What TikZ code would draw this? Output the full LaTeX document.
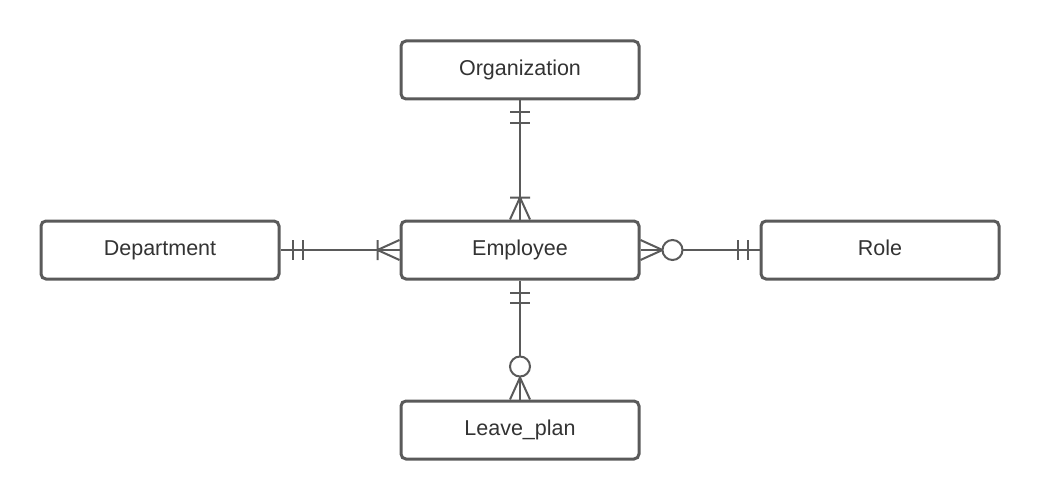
\documentclass[tikz,border=0pt]{standalone}
\usepackage{fontspec}
\setmainfont{Liberation Sans}
\definecolor{linegray}{HTML}{5A5A5A}
\definecolor{textgray}{HTML}{333333}
\begin{document}
\begin{tikzpicture}[x=1pt, y=-1pt,
        entity/.style={draw=linegray, line width=3pt, rounded corners=5pt, fill=white,
            minimum width=238pt, minimum height=58pt, text=textgray,
            text height=16pt, text depth=5pt,
            font=\fontsize{21.5}{26}\selectfont},
        rel/.style={draw=linegray, line width=2pt}]
        \useasboundingbox (0,0) rectangle (1040,500);

        \node[entity](org) at (520, 70){Organization};
        \node[entity](dept) at (160, 250){Department};
        \node[entity](emp) at (520, 250){Employee};
        \node[entity](role) at (880, 250){Role};
        \node[entity](leave) at (520, 430){Leave\_plan};

        % Organization -- Employee
        \draw[rel](org) -- (emp);
        \draw[rel]([yshift=-12pt]org.south) +(-10,0) -- +(10,0)
            ([yshift=-22pt]org.south) +(-10,0) -- +(10,0);
        \draw[rel]([yshift=22pt]emp.north) +(-10,0) -- +(10,0)
            ([yshift=22pt]emp.north) +(-10,22) -- +(0,0) -- +(10,22);

        % Department -- Employee
        \draw[rel](dept) -- (emp);
        \draw[rel]([xshift=12pt]dept.east) +(0,-10) -- +(0,10)
            ([xshift=22pt]dept.east) +(0,-10) -- +(0,10);
        \draw[rel]([xshift=-22pt]emp.west) +(0,-10) -- +(0,10)
            ([xshift=-22pt]emp.west) +(22,-10) -- +(0,0) -- +(22,10);

        % Employee -- Role
        \draw[rel](emp) -- (role);
        \draw[rel](emp.east) +(0,-10) -- +(22,0) -- +(0,10);
        \draw[rel, fill=white]([xshift=32pt]emp.east) circle (10pt);
        \draw[rel]([xshift=-22pt]role.west) +(0,-10) -- +(0,10)
            ([xshift=-12pt]role.west) +(0,-10) -- +(0,10);

        % Employee -- Leave_plan
        \draw[rel](emp) -- (leave);
        \draw[rel]([yshift=-12pt]emp.south) +(-10,0) -- +(10,0)
            ([yshift=-22pt]emp.south) +(-10,0) -- +(10,0);
        \draw[rel](leave.north) +(-10,0) -- +(0,-22) -- +(10,0);
        \draw[rel, fill=white]([yshift=33pt]leave.north) circle (10pt);
    \end{tikzpicture}
\end{document}
